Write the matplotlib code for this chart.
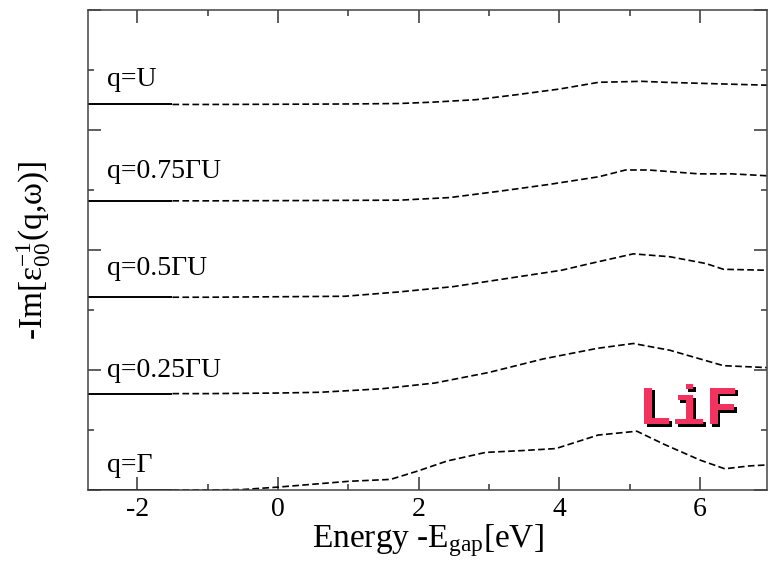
import matplotlib
matplotlib.use('Agg')
import matplotlib.pyplot as plt
import matplotlib.patheffects as pe
from matplotlib.ticker import MultipleLocator

plt.rcParams['font.family'] = ['Liberation Serif', 'DejaVu Serif']
plt.rcParams['mathtext.fontset'] = 'custom'
plt.rcParams['mathtext.rm'] = 'Liberation Serif'
plt.rcParams['mathtext.it'] = 'Liberation Serif:italic'
plt.rcParams['axes.unicode_minus'] = False

# spectra, relative to each baseline
labels = ['q=\u0393', 'q=0.25\u0393U', 'q=0.5\u0393U', 'q=0.75\u0393U', 'q=U']
label_y = [0.19, 0.17, 0.23, 0.24, 0.19]

x_g = [-1.5, -1.0, -0.5, 0.0, 0.5, 1.0, 1.6, 2.0, 2.4, 2.95, 3.5, 3.95, 4.55, 5.1, 5.5, 6.0, 6.35, 6.7, 6.95]
y_g = [0.0, 0.0, 0.005, 0.03, 0.06, 0.09, 0.11, 0.20, 0.30, 0.39, 0.41, 0.43, 0.57, 0.61, 0.47, 0.31, 0.22, 0.25, 0.26]

x_25 = [-1.5, -1.0, -0.5, 0.0, 0.6, 1.47, 2.23, 3.0, 3.77, 4.54, 5.05, 5.57, 6.33, 6.95]
y_25 = [0.0, 0.0, 0.003, 0.006, 0.014, 0.05, 0.11, 0.22, 0.36, 0.47, 0.52, 0.45, 0.29, 0.27]

x_50 = [-1.5, -1.0, 0.0, 0.95, 1.72, 2.49, 3.26, 4.03, 4.44, 5.05, 5.57, 6.08, 6.33, 6.95]
y_50 = [0.0, 0.0, 0.005, 0.01, 0.055, 0.11, 0.195, 0.28, 0.35, 0.45, 0.42, 0.35, 0.29, 0.28]

x_75 = [-1.5, -1.0, 0.0, 1.0, 1.73, 2.44, 3.15, 3.85, 4.56, 4.94, 5.27, 5.98, 6.45, 6.95]
y_75 = [0.0, 0.0, 0.002, 0.005, 0.007, 0.034, 0.10, 0.17, 0.25, 0.32, 0.32, 0.28, 0.28, 0.26]

x_u = [-1.5, -1.0, 0.0, 1.0, 1.73, 2.2, 2.82, 3.38, 4.0, 4.56, 5.17, 5.5, 6.45, 6.95]
y_u = [0.0, 0.0, 0.002, 0.005, 0.01, 0.024, 0.05, 0.10, 0.16, 0.23, 0.24, 0.23, 0.21, 0.20]

curves = [(x_g, y_g), (x_25, y_25), (x_50, y_50), (x_75, y_75), (x_u, y_u)]

fig = plt.figure(figsize=(7.68, 5.65), dpi=100)
ax = fig.add_axes([88/768, 75/565, 679/768, 480/565])

xmin, xmax = -2.7, 6.95
for k, (xs, ys) in enumerate(curves):
    off = k * 1.0
    # solid part at the low-energy end
    ax.plot([xmin, xs[0]], [off, off], color='black', lw=1.4, solid_capstyle='butt')
    ax.plot(xs, [v + off for v in ys], color='black', lw=1.2, ls=(0, (4, 2)))
    ax.text(-2.43, off + label_y[k], labels[k], fontsize=20, va='baseline', ha='left')

ax.text(5.83, 0.83, 'LiF', fontsize=40, color='#f2335f', family='Liberation Mono',
        weight='bold', ha='center', va='center',
        path_effects=[pe.withSimplePatchShadow(offset=(2, -2), shadow_rgbFace='black', alpha=1.0)])

ax.set_xlim(xmin, xmax)
ax.set_ylim(0, 4.98)
ax.xaxis.set_major_locator(MultipleLocator(2))
ax.xaxis.set_minor_locator(MultipleLocator(1))
ax.yaxis.set_major_locator(MultipleLocator(1.245))
ax.yaxis.set_minor_locator(MultipleLocator(0.6225))
ax.tick_params(which='both', direction='in', top=True, right=True, width=1.1, color='#333333')
ax.tick_params(which='major', length=9.5)
ax.tick_params(which='minor', length=4.5)
ax.tick_params(axis='x', labelsize=20, pad=5)
ax.tick_params(axis='y', labelleft=False)
for s in ax.spines.values():
    s.set_linewidth(1.1)
    s.set_color('#444444')

ax.set_xlabel(r'Energy -E$_{\mathrm{gap}}$[eV]', fontsize=24, labelpad=0)
ax.set_ylabel(r'-Im[$\mathrm{\varepsilon}_{00}^{-1}$(q,$\mathrm{\omega}$)]', fontsize=24, labelpad=22)

fig.savefig('out.png', dpi=100)
